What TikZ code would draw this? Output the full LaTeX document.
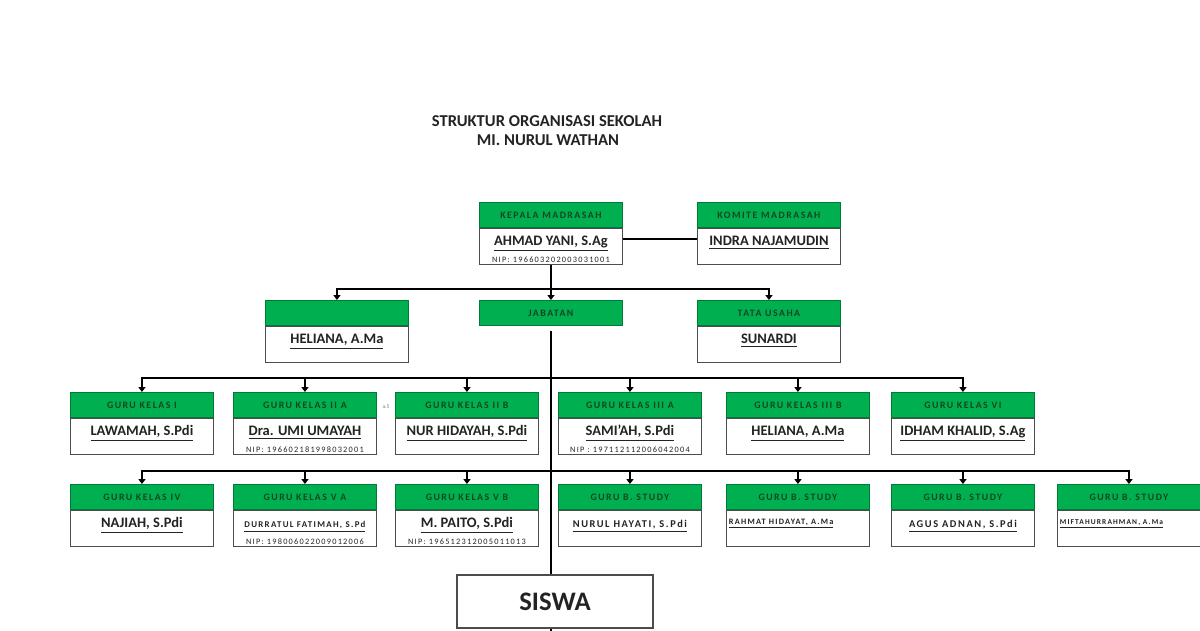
\documentclass[tikz,border=0pt]{standalone}
\usepackage{fontspec}
\setmainfont{Carlito}
\newfontfamily\hdrfont[LetterSpace=15]{Carlito}
\usetikzlibrary{positioning,arrows.meta}

\definecolor{hijau}{RGB}{0,176,80}
\definecolor{teks}{RGB}{35,35,35}
\definecolor{teksh}{RGB}{20,70,30}

\newcommand\nama[1]{{\fontsize{10.3}{11}\selectfont\bfseries\underline{#1}}}
\newcommand\namakecil[2][6]{{\hdrfont\fontsize{#1}{7}\selectfont\bfseries\underline{#2}}}
\newcommand\nip[1]{{\hdrfont\fontsize{5.9}{6}\selectfont #1}}
\newcommand\isi[2]{\parbox[c][0.83cm][t]{3.45cm}{\centering\rule{0pt}{11.5pt}#1\par #2}}
\newcommand\isikiri[1]{\parbox[c][0.83cm][t]{3.45cm}{\raggedright\rule{0pt}{9pt}#1}}

\tikzset{
  kepala/.style={anchor=north west, fill=hijau, draw=hijau!70!black, line width=0.6pt,
    minimum width=3.575cm, minimum height=0.625cm, inner sep=0pt, text=teksh,
    font=\hdrfont\bfseries\fontsize{7}{8}\selectfont},
  badan/.style={below=0pt of #1, fill=white, draw=gray!60!black, line width=0.8pt,
    minimum width=3.575cm, inner sep=1pt, text=teks},
  garis/.style={line width=1.6pt, black},
  panah/.style={garis, -{Triangle[width=5pt,length=3.5pt]}},
  judul/.style={font=\bfseries\fontsize{11.8}{13}\selectfont, text=teks}
}

\begin{document}
\begin{tikzpicture}[x=0.025cm, y=-0.025cm]
	\clip (0,0) rectangle (1200,630);
	\fill[white] (0,0) rectangle (1200,630);
	\node[judul] (jdl1) at (547,121) {STRUKTUR ORGANISASI SEKOLAH};
	\node[judul] (jdl2) at (548,140) {MI. NURUL WATHAN};

	\node[kepala] (kep) at (479,202) {KEPALA MADRASAH};
	\node[badan=kep] (kep-b) {\isi{\nama{AHMAD YANI, S.Ag}}{\nip{NIP: 196603202003031001}}};
	\node[kepala] (kom) at (697,202) {KOMITE MADRASAH};
	\node[badan=kom] (kom-b) {\isi{\nama{INDRA NAJAMUDIN}}{}};

	\node[kepala] (hel) at (265,300) {};
	\node[badan=hel] (hel-b) {\isi{\nama{HELIANA, A.Ma}}{}};
	\node[kepala] (jab) at (479,300) {JABATAN};
	\node[kepala] (tu) at (697,300) {TATA USAHA};
	\node[badan=tu] (tu-b) {\isi{\nama{SUNARDI}}{}};

	\node[kepala] (g1) at (70,392) {GURU KELAS I};
	\node[badan=g1] (g1-b) {\isi{\nama{LAWAMAH, S.Pdi}}{}};
	\node[kepala] (g2) at (233,392) {GURU KELAS II A};
	\node[badan=g2] (g2-b) {\isi{\nama{Dra. UMI UMAYAH}}{\nip{NIP: 196602181998032001}}};
	\node[kepala] (g3) at (395,392) {GURU KELAS II B};
	\node[badan=g3] (g3-b) {\isi{\nama{NUR HIDAYAH, S.Pdi}}{}};
	\node[kepala] (g4) at (558,392) {GURU KELAS III A};
	\node[badan=g4] (g4-b) {\isi{\nama{SAMI'AH, S.Pdi}}{\nip{NIP : 197112112006042004}}};
	\node[kepala] (g5) at (726,392) {GURU KELAS III B};
	\node[badan=g5] (g5-b) {\isi{\nama{HELIANA, A.Ma}}{}};
	\node[kepala] (g6) at (891,392) {GURU KELAS VI};
	\node[badan=g6] (g6-b) {\isi{\nama{IDHAM KHALID, S.Ag}}{}};
	\node[font=\fontsize{4}{4}\selectfont, text=gray] (cat) at (386,407) {a.5};

	\node[kepala] (h1) at (70,484) {GURU KELAS IV};
	\node[badan=h1] (h1-b) {\isi{\nama{NAJIAH, S.Pdi}}{}};
	\node[kepala] (h2) at (233,484) {GURU KELAS V A};
	\node[badan=h2] (h2-b) {\isi{\namakecil[6.3]{DURRATUL FATIMAH, S.Pd}}{\nip{NIP: 198006022009012006}}};
	\node[kepala] (h3) at (395,484) {GURU KELAS V B};
	\node[badan=h3] (h3-b) {\isi{\nama{M. PAITO, S.Pdi}}{\nip{NIP: 196512312005011013}}};
	\node[kepala] (h4) at (558,484) {GURU B. STUDY};
	\node[badan=h4] (h4-b) {\isi{\namakecil[7.4]{NURUL HAYATI, S.Pdi}}{}};
	\node[kepala] (h5) at (726,484) {GURU B. STUDY};
	\node[badan=h5] (h5-b) {\isikiri{\namakecil[5.9]{RAHMAT HIDAYAT, A.Ma}}};
	\node[kepala] (h6) at (891,484) {GURU B. STUDY};
	\node[badan=h6] (h6-b) {\isi{\namakecil[7.4]{AGUS ADNAN, S.Pdi}}{}};
	\node[kepala] (h7) at (1057,484) {GURU B. STUDY};
	\node[badan=h7] (h7-b) {\isikiri{\namakecil[5.3]{MIFTAHURRAHMAN, A.Ma}}};

	\node[draw=gray!60!black, line width=0.8pt, minimum width=4.9cm, minimum height=1.325cm,
	  font=\bfseries\fontsize{19}{20}\selectfont, text=teks] (sis) at (555,601.5) {SISWA};

	\coordinate (bus1) at (kep-b.south |- 0,289);
	\coordinate (bus2) at (jab.south |- 0,378);
	\coordinate (bus3) at (jab.south |- 0,471);
	\coordinate (bwh) at (jab.south |- 0,640);

	\draw[garis] (kep-b.6) -- (kom-b.174);
	\draw[panah] (kep-b.south) -- (kep-b.south |- jab.north);
	\draw[panah] (bus1) -| (hel.north);
	\draw[panah] (bus1) -| (tu.north);
	\draw[garis, shorten <=4pt] (jab.south) -- (jab.south |- sis.north);
	\draw[garis] (jab.south |- sis.south) -- (bwh);
	\foreach \g in {g1,g2,g3,g4,g5,g6} \draw[panah] (bus2) -| (\g.north);
	\foreach \h in {h1,h2,h3,h4,h5,h6,h7} \draw[panah] (bus3) -| (\h.north);
\end{tikzpicture}
\end{document}
